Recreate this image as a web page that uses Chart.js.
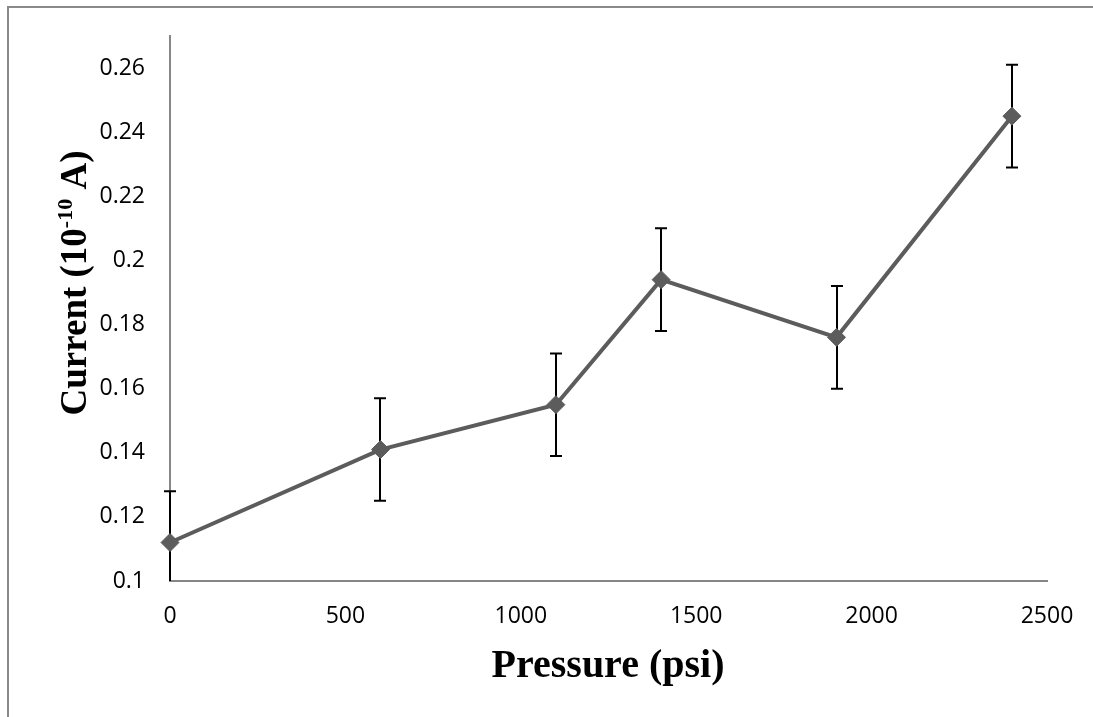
<!DOCTYPE html>
<html>
<head>
<meta charset="utf-8">
<script src="https://cdn.jsdelivr.net/npm/chart.js@4.4.0/dist/chart.umd.min.js"></script>
<style>
  html, body { margin: 0; padding: 0; background: #ffffff; }
  canvas { display: block; }
</style>
</head>
<body>
<canvas id="c" width="1093" height="717"></canvas>
<script>
// ---- Data ----
const pressure = [0, 600, 1100, 1400, 1900, 2400];          // psi
const current  = [0.112, 0.141, 0.155, 0.194, 0.176, 0.245]; // 10^-10 A
const errors   = [0.016, 0.016, 0.016, 0.016, 0.016, 0.016];
const xTicks   = [0, 500, 1000, 1500, 2000, 2500];
const yTicks   = [0.1, 0.12, 0.14, 0.16, 0.18, 0.2, 0.22, 0.24, 0.26];
const xTitle   = "Pressure (psi)";
const yTitleMain = "Current (10";
const yTitleSup  = "-10";
const yTitleEnd  = " A)";

const AXIS_COLOR = '#868686';
const LINE_COLOR = '#5c5c5c';
const TICK_FONT = { family: '"Open Sans", sans-serif', size: 23 };

const frame = {
  id: 'frame',
  beforeDraw(chart) {
    const ctx = chart.ctx;
    ctx.save();
    ctx.strokeStyle = '#8a8a8a';
    ctx.lineWidth = 2;
    ctx.beginPath();
    ctx.moveTo(8, 717);
    ctx.lineTo(8, 7);
    ctx.lineTo(1093, 7);
    ctx.stroke();
    ctx.restore();
  }
};

const errorBars = {
  id: 'errorBars',
  beforeDatasetsDraw(chart) {
    const ctx = chart.ctx;
    const xs = chart.scales.x, ys = chart.scales.y;
    const a = chart.chartArea;
    ctx.save();
    ctx.beginPath();
    ctx.rect(a.left - 10, a.top, a.right - a.left + 20, a.bottom - a.top);
    ctx.clip();
    ctx.strokeStyle = '#000000';
    ctx.lineWidth = 2;
    for (let i = 0; i < pressure.length; i++) {
      const px = Math.round(xs.getPixelForValue(pressure[i]));
      const top = ys.getPixelForValue(current[i] + errors[i]);
      const bot = ys.getPixelForValue(current[i] - errors[i]);
      ctx.beginPath();
      ctx.moveTo(px, top); ctx.lineTo(px, bot);
      ctx.moveTo(px - 6, top); ctx.lineTo(px + 6, top);
      ctx.moveTo(px - 6, bot); ctx.lineTo(px + 6, bot);
      ctx.stroke();
    }
    ctx.restore();
  }
};

const titles = {
  id: 'titles',
  afterDraw(chart) {
    const ctx = chart.ctx;
    const a = chart.chartArea;
    ctx.save();
    ctx.fillStyle = '#000000';
    // X title
    ctx.font = 'bold 40px "Liberation Serif", serif';
    ctx.textAlign = 'center';
    ctx.textBaseline = 'alphabetic';
    ctx.fillText(xTitle, 608, 677);
    // Y title (rotated, with superscript)
    const mainFont = 'bold 37px "Liberation Serif", serif';
    const supFont = 'bold 22px "Liberation Serif", serif';
    ctx.font = mainFont; const w1 = ctx.measureText(yTitleMain).width;
    ctx.font = supFont;  const w2 = ctx.measureText(yTitleSup).width;
    ctx.font = mainFont; const w3 = ctx.measureText(yTitleEnd).width;
    const total = w1 + w2 + w3;
    ctx.translate(86, 283);
    ctx.rotate(-Math.PI / 2);
    ctx.textAlign = 'left';
    let x = -total / 2;
    ctx.font = mainFont; ctx.fillText(yTitleMain, x, 0); x += w1;
    ctx.font = supFont;  ctx.fillText(yTitleSup, x, -14); x += w2;
    ctx.font = mainFont; ctx.fillText(yTitleEnd, x, 0);
    ctx.restore();
  }
};

new Chart(document.getElementById('c'), {
  type: 'line',
  data: {
    datasets: [{
      data: pressure.map((p, i) => ({ x: p, y: current[i] })),
      borderColor: LINE_COLOR,
      backgroundColor: LINE_COLOR,
      borderWidth: 4,
      pointStyle: 'rectRot',
      pointRadius: 9,
      pointBorderWidth: 1,
      pointBackgroundColor: LINE_COLOR,
      pointBorderColor: LINE_COLOR,
      tension: 0,
      clip: false
    }]
  },
  options: {
    responsive: false,
    animation: false,
    devicePixelRatio: 1,
    layout: { padding: { left: 0, top: 36, right: 46, bottom: 0 } },
    plugins: { legend: { display: false }, tooltip: { enabled: false } },
    scales: {
      x: {
        type: 'linear',
        min: 0, max: 2500,
        afterBuildTicks(scale) { scale.ticks = xTicks.map(v => ({ value: v })); },
        afterFit(scale) { scale.height = 136; scale.paddingLeft = 0; scale.paddingRight = 0; },
        grid: { display: false, drawTicks: false },
        border: { display: true, color: AXIS_COLOR, width: 2 },
        ticks: { color: '#000000', font: TICK_FONT, padding: 22, maxRotation: 0, autoSkip: false,
                 callback: v => String(v) }
      },
      y: {
        type: 'linear',
        min: 0.1, max: 0.27,
        afterBuildTicks(scale) { scale.ticks = yTicks.map(v => ({ value: v })); },
        afterFit(scale) { scale.width = 170; scale.paddingTop = 0; scale.paddingBottom = 0; },
        grid: { display: false, drawTicks: false },
        border: { display: true, color: AXIS_COLOR, width: 2 },
        ticks: { color: '#000000', font: TICK_FONT, padding: 25, autoSkip: false,
                 callback: v => String(Number(v.toFixed(2))) }
      }
    }
  },
  plugins: [frame, errorBars, titles]
});
</script>
</body>
</html>
